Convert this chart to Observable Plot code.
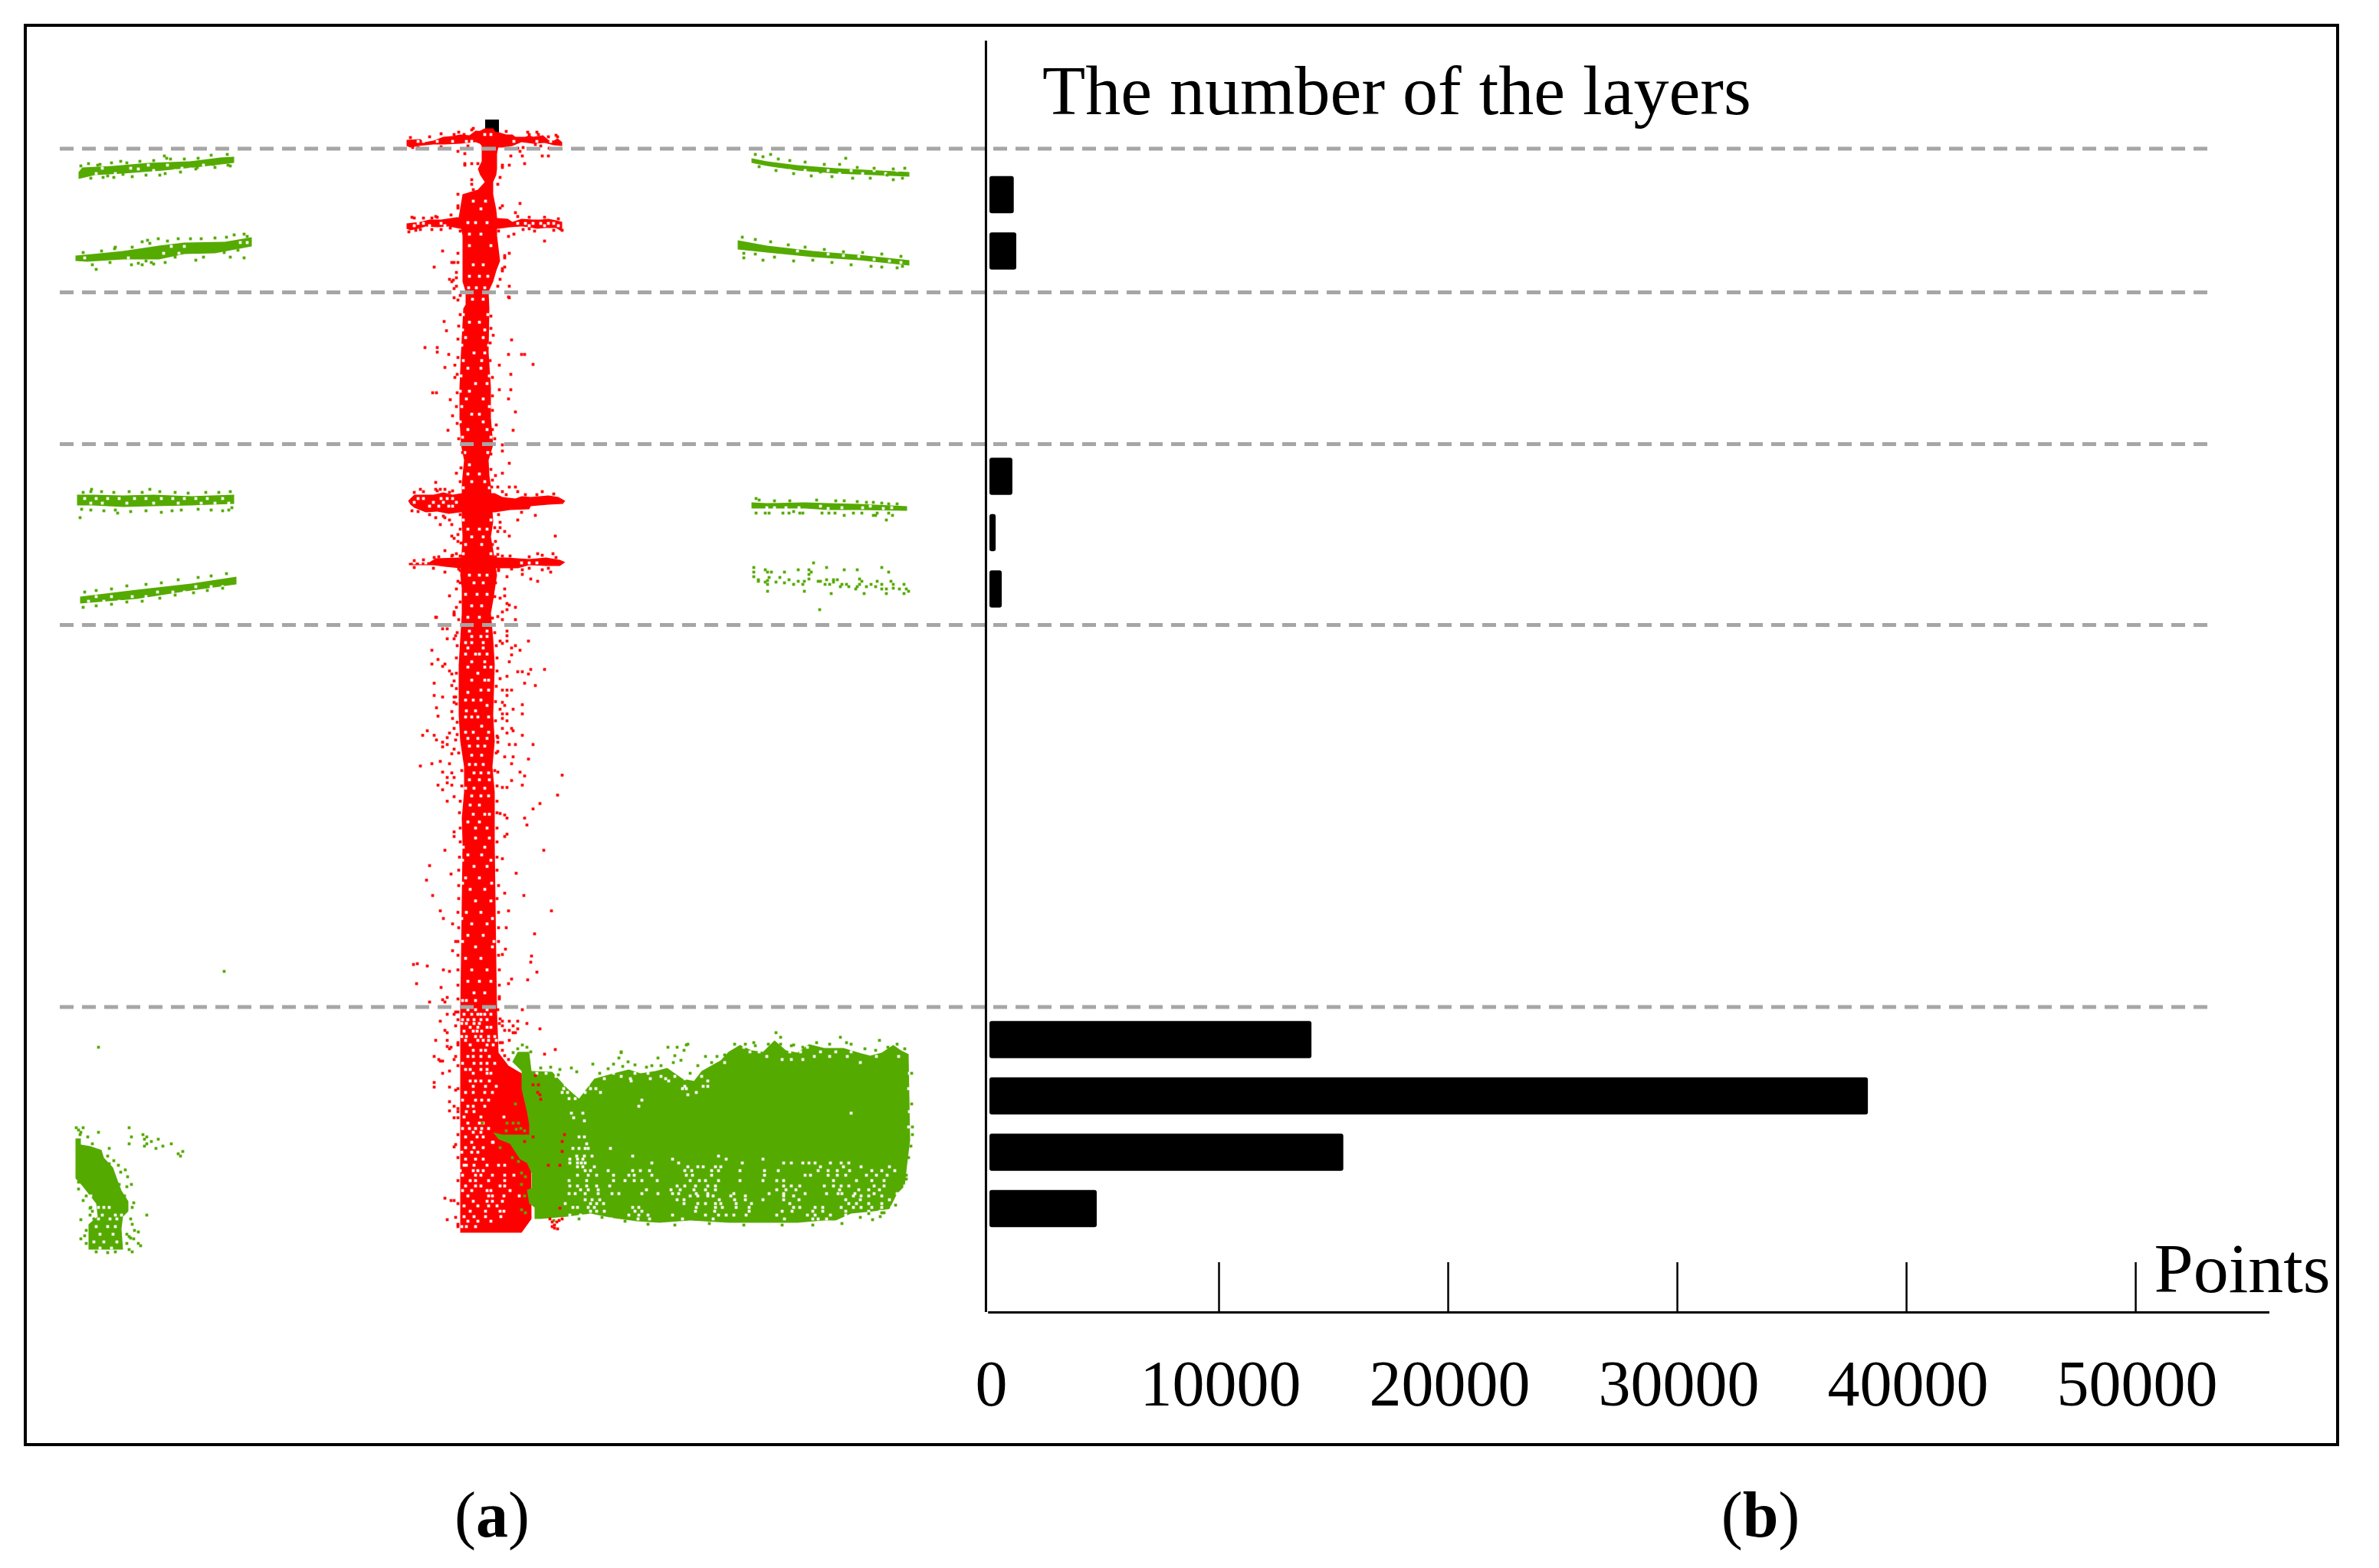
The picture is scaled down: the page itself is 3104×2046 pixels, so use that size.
<!DOCTYPE html>
<html>
<head>
<meta charset="utf-8">
<script src="https://cdn.jsdelivr.net/npm/d3@7"></script>
<script src="https://cdn.jsdelivr.net/npm/@observablehq/plot@0.6"></script>
<style>
  html, body { margin: 0; background: #fff; overflow: hidden; }
  #page { position: relative; width: 3104px; height: 2046px; font-family: "Liberation Serif", serif; color: #000; }
  #page svg { position: absolute; left: 0; top: 0; }
  .cap { position: absolute; top: 1928px; font-size: 84px; transform: translateX(-50%); }
</style>
</head>
<body>
<div id="page">
  <span class="cap" style="left:642px">(<b>a</b>)</span>
  <span class="cap" style="left:2297px">(<b>b</b>)</span>
</div>
<script>
// panel (b): points per layer, layer 1 is the lowest
const layers = [1, 2, 3, 4, 5, 6, 7, 8, 9, 10, 11, 12, 13, 14, 15, 16, 17, 18, 19];
const layerPoints = [4680, 15440, 38330, 14050, 0, 0, 0, 0, 0, 0, 0, 535, 270, 1000, 0, 0, 0, 1170, 1060];
const pointTicks = [0, 10000, 20000, 30000, 40000, 50000];

const sliceBreaks = [193.5, 381, 579, 815, 1313.5];
const towerCap = [{x1: 633, x2: 651, y1: 156, y2: 176}];
const towerOutline = [
  [632,167],[620,173],[622,182],[628,190],[628,210],[623,220],[626,228],[632,237],[623,247],[603,253],[598,283],[603,307],
  [603,367],[607,380],[607,397],[604,402],[601,459],[599,505],[599,545],[601,580],[605,600],[603,620],[602,633],[602,680],
  [603,700],[602,717],[600,750],[602,767],[602,800],[600,833],[598,867],[598,933],[600,967],[605,1000],[605,1033],[602,1067],
  [603,1100],[601,1250],[600,1320],[600,1608],[680,1608],[693,1590],[692,1467],[687,1433],[680,1400],[663,1390],[650,1373],
  [648,1320],[647,1250],[645,1100],[645,1033],[642,1000],[645,967],[643,933],[645,867],[643,833],[640,800],[643,783],[648,750],
  [643,717],[640,700],[643,680],[640,633],[638,620],[637,600],[643,580],[640,545],[640,505],[637,459],[638,402],[637,380],
  [643,367],[647,353],[652,340],[648,307],[648,283],[647,273],[643,253],[643,237],[647,228],[648,220],[648,200],[650,190],[647,173],[643,167]
];
const armOutlines = [
  [[530,182],[548,181],[553,185],[565,183],[578,178],[590,177],[600,175],[612,176],[620,170],[650,172],[660,175],[668,175],[672,178],[685,178],[690,176],[695,178],[708,176],[715,182],[722,183],[727,180],[733,185],[733,190],[722,189],[710,186],[695,187],[680,185],[668,190],[655,192],[640,192],[620,185],[600,187],[580,188],[565,188],[545,190],[535,192],[530,190]],
  [[530,291],[548,289],[560,286],[575,286],[595,283],[648,284],[662,285],[668,289],[680,285],[695,286],[705,286],[715,285],[725,287],[733,289],[733,302],[725,297],[712,297],[700,298],[690,296],[680,295],[665,296],[650,298],[600,298],[585,295],[570,296],[555,295],[545,298],[535,300],[530,298]],
  [[532,653],[540,645],[565,645],[578,642],[590,645],[602,643],[645,643],[655,648],[672,650],[680,647],[692,648],[715,646],[728,648],[737,653],[734,657],[715,658],[692,660],[690,664],[665,665],[645,668],[600,668],[585,670],[570,667],[555,668],[540,662],[535,658]],
  [[533,734],[560,733],[568,728],[600,727],[645,727],[660,727],[690,729],[712,727],[730,730],[737,733],[730,738],[712,738],[690,737],[675,741],[650,741],[600,741],[580,739],[565,737],[550,737],[533,737]]
];
const wireOutlines = [
  [[102,224],[107,218],[147,216],[193,212],[247,210],[287,205],[305,204],[305,212],[263,217],[213,222],[160,226],[123,228],[102,233]],
  [[98,333],[120,331],[160,327],[207,320],[240,316],[293,315],[328,309],[328,321],[280,330],[240,331],[207,338],[160,338],[113,341],[98,340]],
  [[100,645],[120,645],[160,646],[200,645],[250,647],[305,645],[305,657],[250,659],[200,660],[160,661],[120,659],[100,659]],
  [[104,778],[178,769],[249,761],[308,752],[308,762],[249,770],[178,781],[104,787]],
  [[980,206],[1000,210],[1040,215],[1090,219],[1186,224],[1186,230],[1090,226],[1040,222],[1000,216],[980,212]],
  [[962,313],[1000,320],[1060,327],[1120,332],[1186,339],[1186,346],[1120,339],[1060,335],[1000,329],[962,325]],
  [[980,655],[1000,656],[1050,655],[1080,656],[1120,657],[1183,660],[1183,666],[1120,665],[1080,665],[1050,663],[1000,663],[980,663]],
  [[98,1485],[105,1485],[105,1493],[117,1495],[132,1500],[135,1510],[147,1523],[152,1537],[158,1553],[167,1567],[167,1580],[160,1587],[158,1603],[160,1630],[115,1630],[115,1597],[127,1587],[125,1570],[107,1547],[98,1537]]
];
const groundOutline = [
  [668,1385],[675,1372],[690,1372],[693,1397],[720,1398],[740,1420],[755,1433],[765,1420],[775,1407],[800,1400],[820,1395],[835,1400],
  [855,1397],[870,1393],[890,1407],[905,1410],[915,1397],[940,1383],[950,1372],[965,1363],[980,1370],[995,1372],[1010,1357],[1025,1370],
  [1040,1373],[1055,1362],[1075,1367],[1100,1367],[1120,1373],[1135,1377],[1150,1373],[1165,1363],[1175,1370],[1185,1375],[1187,1487],
  [1183,1520],[1180,1547],[1170,1557],[1160,1577],[1140,1580],[1110,1583],[1090,1592],[1075,1592],[1040,1595],[990,1595],[950,1595],
  [900,1592],[860,1595],[830,1593],[800,1589],[770,1583],[740,1587],[705,1590],[697,1590],[697,1575],[690,1570],[687,1552],[693,1550],
  [693,1530],[687,1517],[678,1512],[670,1500],[665,1492],[650,1486],[643,1477],[655,1480],[690,1480],[690,1467],[687,1450],[683,1433],[680,1420],[680,1397]
];

// gaps in the dense parts, [y, [x, ...]]
const towerGaps = [
  [175,[632,640]],[262,[617,633]],[272,[627]],[290,[610,620,635]],[305,[612,627]],[320,[612,640]],[345,[617,630]],[360,[612,625,636]],[375,[611,621,632]],[390,[616,630]],
  [410,[604,636]],[420,[612,625]],[430,[603,632]],[440,[607,630]],[450,[602,637]],[460,[618,632]],[470,[604,628]],[480,[610,627]],[490,[601,638]],[500,[620,635]],[510,[600,612]],[520,[608,630]],[530,[602,638]],[540,[615,625]],[550,[600,630]],[560,[610,635]],[570,[603,640]],
  [590,[606,636]],[606,[612]],[618,[610,625]],[628,[615,632]],[636,[604,638]],
  [678,[604,640]],[690,[610,625,635]],[700,[615,630]],[710,[607,628]],[722,[604,640]],[750,[612,625,635]],[760,[618,630]],[775,[607,622,635]],[790,[615,628]],[805,[610,625]],
  [823,[612,635]],[830,[615,627,635]],[838,[607,615,630]],[845,[610,630]],[853,[607,620,625,635]],[863,[615,632]],[870,[610,632,640]],[878,[623]],[887,[615,632,637]],[900,[627,637]],[903,[610]],
  [913,[607,617,627]],[920,[635]],[927,[608,620]],[935,[607,615,623,637]],[947,[628]],[955,[607,617,637]],[963,[610,623,635]],[973,[623,612,632]],[985,[615,628]],[997,[612,630,620]],
  [1008,[618,627,637]],[1017,[612,625,638]],[1028,[607,618,632]],[1038,[615,627,637]],[1050,[613,625]],[1062,[617,632,638]],[1072,[610,625]],[1080,[620,635]],[1093,[620,638]],
  [1105,[604,632]],[1115,[610,628]],[1122,[603,640]],[1130,[618,635]],[1145,[607,625]],[1152,[603,641]],[1160,[613,632]],[1175,[620,640]],[1190,[608,627]],[1198,[602,642]],[1205,[615,635]],[1220,[610,630]],[1228,[603,644]],[1235,[620,642]],[1250,[607,627]],[1265,[615,635]],[1280,[610,625,640]],[1295,[618,632]],
  [1305,[603,608,620]],[1317,[610,620,635]],[1323,[605,615,623,627,632,640]],[1330,[603,610,618,627,635]],[1335,[602,608,618,625]],[1340,[613,623,635,640]],[1345,[605,617,622,628]],
  [1352,[602,608,620,627,637,645]],[1357,[607,623,630,637,647]],[1363,[613,635,643]],[1370,[617,627,633]],[1378,[610,617,627,638]],[1387,[603,618,627,635,645]],[1395,[607,613,627,635]],
  [1400,[617,635,640]],[1410,[613,620,627,638]],[1417,[617,633,647]],[1425,[607,617,632,642]],[1435,[603,620,628,637]],[1443,[610,617,632]],[1450,[608,618]],[1457,[605,627,657]],
  [1465,[610,625,630]],[1472,[603,612,620,628,637]],[1477,[617,627]],[1483,[607,622,630]],[1490,[642,643,615]],[1497,[607,618,630]],[1503,[602,615,623]],[1512,[607,620,630]],
  [1520,[605,608,618,650,658,635]],[1527,[617,623,600,630]],[1533,[603,620,627,642,658,670]],[1540,[613,620,637,658]],[1547,[607,620,627,652,658]],[1553,[603,615,635,640,665]],
  [1560,[610,637,642,657,677]],[1567,[617,635,642,655]],[1573,[605,623,637,648]],[1580,[613,633,652,657]],[1587,[605,618,633,653]],[1593,[610,623,640]],[1600,[602,608,620]],
  [184,[545,552,570,590,608,615,670,700,718]],[291,[545,552,575,675,685,695,705,715,722]],[294,[540,560,580,690,710,728]],
  [650,[545,552,575,583,590]],[655,[540,565,578,595]],[660,[560,572,585,590]],[734,[540,548,555,680,690,700]]
];
const wireGaps = [
  [219,[133,170,237]],[215,[193,218,265]],[220,[180,248]],[226,[125,150]],[222,[200,228]],
  [330,[213,233]],[321,[223,240]],[336,[167,110]],[316,[313,322]],
  [650,[110,125,140,155,175,190,210,225,240,255,270,290]],[656,[118,133,165,200,232,262,280,298]],
  [784,[115,135,155]],[778,[125,145,172,190]],[772,[205,225,240]],[765,[255,275,290]],
  [222,[1010,1030,1050,1080,1110,1140,1170]],[226,[1065,1095,1125,1155]],
  [327,[1040]],[331,[1080]],[333,[1100]],[334,[1120]],[338,[1140]],[340,[1160]],[342,[1175]],
  [662,[1000,1010,1025,1042,1098,1125,1163]],[660,[1070,1135]],[663,[1080,1152]],
  [1590,[128,143,152]],[1600,[125,140,150]],[1610,[130,147]],[1620,[122,135,152]],[1628,[130,145]],[1560,[110,118]],[1575,[128,135,142]],[1585,[133,150,158]]
];
const groundGaps = [
  [1366,[970,1053]],[1372,[978,990,1030,1044,1070,1090,1110,1125]],[1378,[1000,1062,1082,1105,1143,1172]],[1386,[945,1122]],
  [1400,[700,712,800,828,845]],[1404,[725,775,810,862,880,915]],
  [1382,[1020,1032,1047]],[1407,[788,822,848,868,893]],[1410,[735,752,823,872,923]],[1415,[737,753,767]],[1417,[893,917,923]],[1420,[735,750,757,770,777,890,895]],[1425,[733,740,750,763,783,908]],[1428,[897]],
  [1433,[742,750]],[1435,[837]],[1443,[833]],[1452,[745,760,1110]],[1458,[748]],[1462,[762]],
  [1483,[755,762]],[1492,[765]],[1498,[747,755,763,767,796]],[1508,[825,752,762,772,937]],[1512,[743,753,760,877,995,947]],
  [1517,[743,753,758,763,850,885,968,1022,1032,1047,1055,1063,1083,1097,1107]],[1522,[753,760,775,897,910,917,933,940,1070,1100,1123,1160]],
  [1527,[763,770,793,825,835,847,893,902,928,937,965,997,1015,1067,1080,1092,1108,1137,1150,1167]],
  [1533,[753,767,778,800,820,827,850,895,903,928,997,1050,1057,1080,1092,1103,1130,1143,1157]],
  [1540,[742,765,800,815,827,837,857,900,912,920,937,965,995,1013,1022,1087,1117,1137,1153]],
  [1547,[743,753,765,778,795,883,893,907,923,933,1022,1032,1043,1075,1087,1097,1107,1140,1153,1180]],
  [1552,[757,767,780,843,875,887,905,920,933,1013,1025,1038,1095,1120,1133,1147]],
  [1557,[742,750,763,780,798,807,837,858,877,885,908,923,957,1003,1022,1050,1078,1093,1098,1115,1140,1170]],
  [1560,[900,910,923,930,953,972,1022,1035,1113,1123,1133,1150]],
  [1565,[763,772,782,883,892,938,958,972,995,1022,1042,1103,1122,1160]],
  [1570,[737,770,778,787,892,910,920,933,940,960,980,1030,1107,1117,1133,1150]],
  [1575,[747,753,767,775,825,833,908,933,942,960,977,1035,1043,1063,1073,1097,1113,1123,1137,1150,1163]],
  [1580,[770,778,788,828,837,907,932,977,1020,1033,1060,1073,1103,1133,1148]],
  [1585,[743,757,770,820,833,845,877,920,937,947,957,973,1013,1053,1063,1083,1103]],
  [1590,[797,832,847,890,930,1023,1060,1067,1078,1140]],
  [1400,[1186]],[1420,[1185]],[1450,[1186]],[1470,[1185]]
];

// stray points, [x, y]
const redStrays = [
  [597,197],[606,200],[606,213],[606,215],[615,213],[623,213],[655,215],[655,218],[664,215],[684,213],[666,203],[681,203],[678,197],[707,203],[715,203],[615,234],[615,240],[617,247],[649,240],[652,231],
  [678,265],[655,268],[652,271],[672,277],[597,253],[597,268],[597,271],[710,314],[577,327],[566,348],[597,330],[664,330],[658,333],[658,336],[589,342],[592,342],[597,342],[655,350],[655,353],[658,348],
  [595,355],[595,362],[586,364],[589,367],[595,373],[652,364],[649,373],[664,373],[592,376],[592,388],[600,385],[597,391],[664,388],[537,283],[568,282],[563,284],[533,302],[542,300],[563,299],[587,297],
  [670,305],[663,308],[733,300],[682,299],[690,298],[615,169],[592,175],[605,175],[690,175],[702,175],[715,178],[727,178],[538,192],[682,192],[698,188],[716,193],
  [663,387],[591,365],[579,419],[582,431],[554,453],[570,453],[570,459],[585,462],[593,476],[580,479],[593,492],[564,512],[569,512],[587,521],[590,542],[601,554],[584,561],[643,437],[667,443],[663,462],
  [680,462],[684,462],[695,475],[651,476],[666,488],[651,508],[666,508],[663,520],[672,537],[647,554],[669,561],[655,580],[655,588],
  [664,604],[655,617],[646,620],[595,617],[568,629],[548,638],[568,638],[574,638],[580,638],[586,642],[664,635],[672,635],[649,635],[641,635],[655,641],[675,641],[707,641],[537,666],[568,675],[580,675],
  [586,678],[574,684],[589,684],[698,672],[675,678],[652,681],[652,688],[649,693],[658,693],[664,699],[724,699],[589,699],[592,702],[597,697],[597,706],[646,706],[649,715],[580,718],[595,722],[589,725],
  [701,722],[721,722],[649,723],[655,725],[566,727],[667,742],[681,743],[707,743],[718,746],[681,749],[580,746],[661,752],[692,755],[701,758],[597,758],[595,768],[658,768],[586,777],[658,777],[652,780],
  [661,787],[664,789],[672,792],[595,792],[661,795],[592,798],[592,801],[569,805],[649,804],[672,808],[655,798],
  [568,805],[592,802],[655,808],[577,820],[583,820],[583,833],[592,833],[594,829],[661,823],[661,829],[689,836],[652,836],[661,836],[655,839],[672,842],[667,845],[678,848],[563,848],[667,854],[571,860],
  [563,866],[580,866],[577,869],[664,863],[586,875],[589,879],[675,876],[681,876],[692,873],[710,873],[689,879],[661,882],[652,885],[592,888],[566,891],[684,891],[589,894],[698,894],[655,900],[661,900],
  [667,900],[566,907],[577,909],[592,909],[594,909],[592,916],[661,907],[655,916],[681,919],[658,920],[569,923],[589,928],[652,925],[669,925],[681,931],[571,934],[655,931],[661,931],[590,937],[655,937],
  [661,940],[592,950],[655,950],[667,950],[557,953],[551,959],[566,959],[586,956],[669,953],[661,956],[681,959],[569,965],[583,962],[594,965],[649,962],[577,968],[649,968],[577,974],[583,971],[664,971],
  [672,971],[695,971],[592,977],[649,980],[589,983],[658,987],[669,987],[574,993],[689,990],[563,996],[586,996],[548,999],[667,996],[577,1007],[589,1008],[649,1007],[678,1007],[684,1012],[733,1011],[583,1014],
  [592,1014],[583,1021],[571,1024],[589,1024],[667,1018],[681,1024],[655,1027],[661,1027],[577,1030],[592,1039],[727,1037],[583,1045],[704,1048],[695,1055],[652,1061],[658,1063],[661,1067],[684,1067],[687,1076],
  [592,1085],[592,1091],[661,1088],[658,1091],
  [556,1148],[564,1168],[560,1129],[580,1109],[574,1188],[544,1257],[683,1168],[673,1139],[663,1188],[693,1247],[697,1218],[709,1109],[719,1188],[594,1228],[586,1267],[578,1198],[659,1238],[667,1277],[588,1140],[590,1205],
  [655,1120],[658,1165],[660,1210],[655,1245],[590,1240],[539,1258],[557,1260],[543,1283],[578,1265],[575,1288],[692,1255],[700,1268],[688,1278],[663,1283],[651,1300],
  [560,1307],[577,1304],[580,1307],[583,1301],[583,1323],[574,1332],[592,1323],[594,1320],[597,1320],[594,1338],[580,1344],[583,1347],[568,1357],[583,1357],[583,1365],[586,1368],[588,1366],[597,1363],[566,1378],[572,1382],
  [574,1384],[577,1384],[594,1378],[592,1382],[577,1400],[586,1397],[566,1412],[566,1418],[586,1418],[594,1422],[586,1437],[592,1443],[597,1446],[586,1449],[592,1458],[597,1458],[592,1496],[594,1493],[580,1563],[588,1566],
  [592,1566],[594,1588],[583,1591],[597,1597],[655,1332],[664,1332],[675,1332],[687,1335],[655,1338],[658,1344],[664,1344],[669,1338],[675,1342],[669,1347],[672,1347],[704,1342],[655,1360],[664,1357],[710,1375],[724,1369],
  [681,1317],[649,1317],[652,1329],[655,1370],[658,1377],[663,1382],[652,1387]
];
// points just outside the tower and arm outlines
const redEdges = [
  [535,179],[560,178],[575,174],[598,172],[617,167],[660,171],[688,172],[700,172],[725,176],[545,192],[575,191],[610,190],[675,193],[705,190],
  [540,284],[552,284],[570,283],[588,280],[675,282],[690,283],[710,283],[728,285],[548,299],[575,299],[600,301],[650,301],[697,301],[722,300],
  [540,642],[552,641],[570,640],[590,640],[660,645],[685,645],[700,645],[722,644],[545,667],[560,671],[578,673],[600,671],[650,671],[680,668],
  [540,731],[552,730],[572,726],[590,724],[665,725],[690,726],[707,724],[725,727],[540,740],[565,741],[600,744],[650,744],[690,741],[715,741],
  [600,410],[640,412],[598,425],[640,428],[597,442],[639,447],[597,466],[639,470],[596,488],[642,492],[596,512],[642,516],[595,530],[642,535],[596,552],[642,560],[598,572],[645,572],
  [603,590],[640,592],[601,610],[640,612],[600,628],[642,626],[600,690],[645,688],[601,708],[642,710],[600,725],[646,726],[598,742],[650,742],[600,760],[646,760],[600,785],[645,778],
  [598,808],[642,806],[596,825],[645,825],[596,842],[647,842],[595,858],[648,858],[595,878],[648,875],[595,898],[647,895],[595,918],[646,915],[596,942],[646,940],[596,958],[648,960],
  [598,982],[647,982],[602,1005],[645,1005],[602,1025],[648,1025],[600,1045],[648,1045],[599,1060],[648,1060],[600,1080],[648,1080],[600,1098],[648,1098],
  [599,1118],[648,1118],[598,1135],[648,1135],[598,1155],[650,1155],[598,1172],[648,1172],[597,1190],[650,1190],[598,1210],[650,1210],[597,1228],[650,1228],[597,1246],[650,1246],[597,1265],[651,1265],[597,1285],[651,1285],[597,1303],[651,1303],
  [597,1330],[651,1335],[597,1360],[652,1360],[597,1390],[597,1420],[597,1450],[597,1480],[597,1510],[597,1540],[597,1570],[597,1600]
];
const redOverGround = [
  [736,1480],[733,1489],[733,1502],[730,1520],[730,1576],[715,1520],[695,1483],[684,1489],[701,1425],[704,1428],[705,1434],[698,1403],[695,1415],[702,1415],
  [717,1590],[720,1594],[723,1598],[726,1594],[729,1592],[723,1602],[727,1603],[733,1590],[720,1600]
];
const greenStrays = [
  // wires
  [214,203],[217,206],[157,210],[160,227],[140,229],[134,231],[208,228],[257,218],[297,215],[278,214],[127,215],
  [125,351],[131,337],[149,324],[190,340],[171,345],[185,345],[197,342],[200,344],[192,313],[185,315],[206,311],[255,339],[248,311],[295,309],[300,335],[318,336],[322,308],
  [119,638],[195,638],[104,675],[153,669],[224,666],[290,666],[298,665],[1005,201],[1103,206],[1070,224],[1177,232],[1157,228],[970,336],[995,339],[1136,347],[1177,347],
  [986,650],[998,669],[1003,669],[986,669],[1021,669],[1029,669],[1035,667],[1043,669],[1047,669],[1072,669],[1081,669],[1089,669],[1101,653],[1101,672],[1113,669],[1124,669],[1130,655],[1139,672],[1142,672],[1144,669],[1156,678],[1159,669],[1164,672],[1159,657],[1139,655],
  [105,216],[115,213],[130,214],[145,212],[165,212],[182,210],[200,209],[222,207],[240,207],[258,206],[275,202],[296,201],[300,216],[280,218],[255,220],[235,224],[215,226],[190,228],[172,230],[148,231],[118,232],
  [108,329],[132,327],[150,322],[172,322],[195,317],[218,314],[232,311],[262,311],[280,310],[305,306],[318,305],[310,326],[292,329],[265,335],[228,335],[215,342],[180,343],[143,342],[120,345],
  [108,642],[118,641],[132,641],[148,642],[168,641],[185,642],[208,641],[228,642],[245,643],[268,642],[285,642],[300,641],[106,664],[118,665],[135,666],[150,665],[170,667],[190,666],[210,668],[236,665],[258,664],[275,665],[302,662],
  [110,772],[125,770],[145,768],[165,764],[190,762],[210,760],[232,756],[258,753],[275,751],[295,748],[108,792],[125,790],[145,788],[165,785],[185,784],[208,780],[228,776],[252,773],[270,770],[290,767],
  [985,201],[995,204],[1015,207],[1030,209],[1050,211],[1075,214],[1095,214],[1118,218],[1140,219],[1165,220],[1180,219],[990,217],[1012,222],[1035,226],[1058,229],[1085,230],[1112,232],[1135,232],[1165,234],
  [968,309],[985,312],[1005,315],[1028,319],[1050,322],[1075,325],[1100,328],[1125,329],[1150,331],[1175,334],[970,330],[985,331],[1010,335],[1035,340],[1060,339],[1085,342],[1110,345],[1150,348],[1170,349],
  [990,652],[1010,653],[1030,653],[1065,652],[1090,653],[1118,654],[1150,656],[1170,657],
  // sparse wire, lower right
  [983,740],[983,746],[983,752],[989,756],[989,758],[998,743],[1001,746],[1006,746],[1003,753],[1001,757],[998,759],[1001,762],[1012,759],[1017,753],[1023,746],[1023,760],[1029,756],[1035,762],[1041,743],[1041,758],
  [1047,762],[1049,758],[1055,743],[1058,746],[1055,749],[1055,755],[1049,771],[1001,771],[1061,734],[1067,758],[1070,758],[1078,740],[1078,756],[1076,762],[1082,762],[1087,756],[1087,759],[1092,756],[1096,765],[1098,762],
  [1104,762],[1107,765],[1101,743],[1118,743],[1121,755],[1124,758],[1121,762],[1118,765],[1116,768],[1130,765],[1136,762],[1142,765],[1144,758],[1150,740],[1159,746],[1150,762],[1150,768],[1156,768],[1162,758],[1165,762],
  [1165,767],[1173,768],[1179,762],[1182,768],[1185,771],[1179,774],[1156,774],[1127,774],[1084,774],[1069,795],
  // left blob and single points
  [99,1471],[102,1474],[105,1477],[108,1471],[128,1477],[114,1483],[168,1471],[171,1483],[168,1492],[186,1480],[188,1486],[191,1483],[191,1492],[188,1495],[197,1489],[206,1486],[203,1498],[212,1495],[223,1492],[232,1505],
  [235,1508],[238,1502],[154,1520],[163,1526],[157,1529],[166,1535],[171,1545],[165,1548],[174,1569],[105,1591],[105,1616],[191,1585],[108,1566],[102,1551],[102,1542],[117,1576],[117,1585],[168,1613],[174,1616],[180,1607],
  [180,1622],[183,1625],[148,1514],[142,1498],[140,1508],[292,1267],[128,1366],
  [104,1480],[120,1580],[118,1575],[112,1560],[122,1590],[170,1590],[172,1597],[175,1605],[165,1610],[170,1615],[112,1605],[110,1612],[112,1622],[165,1622],[168,1630],[172,1633],[150,1633],[140,1634],[125,1633],[120,1492],[142,1518],[155,1545],[162,1560],[172,1575],
  // ground, above and right of the mass
  [1012,1347],[1018,1353],[1096,1353],[1147,1357],[1104,1360],[983,1360],[1035,1363],[897,1362],[871,1366],[883,1366],[810,1373],[807,1380],[858,1380],[920,1378],[935,1378],[773,1388],[800,1388],[819,1385],[895,1363],[892,1370],
  [880,1377],[888,1383],[681,1363],[687,1366],[692,1372],[675,1368],[669,1373],[810,1372],[1138,1591],[1148,1587],[1153,1582],[1133,1583],[1182,1533],[1182,1538],[1177,1537],[745,1393],[752,1398],[730,1395],[850,1390],[910,1390],
  [705,1393],[718,1392],[728,1402],[782,1400],[793,1394],[812,1391],[828,1389],[843,1392],[862,1390],[878,1386],[900,1400],[928,1386],[945,1376],[958,1362],[972,1362],[985,1364],[1002,1362],[1018,1362],[1032,1364],[1047,1366],[1065,1360],[1082,1362],[1110,1362],[1128,1368],[1142,1370],[1158,1366],[1170,1362],[1180,1368],
  [1190,1470],[1190,1480],[1188,1495],[1185,1510],[1189,1440],[1189,1400],[1168,1572],[1150,1582],[1122,1588],[1098,1596],[1060,1598],[1020,1598],[970,1598],[925,1596],[880,1598],[845,1597],[815,1593],[785,1588],[755,1590],[722,1592],
  // flecks over the red base
  [629,1465],[661,1465],[669,1465],[676,1465],[660,1475],[673,1473],[679,1472],[684,1475],[672,1440],[652,1497],[668,1510],[676,1515],[680,1530],[685,1535],[680,1545],[684,1560],[680,1578],[685,1582]
];

const RED = "#ff0000";
const GREEN = "#55aa00";
const SERIF = "'Liberation Serif', serif";
const flatRows = rows => rows.flatMap(([y, xs]) => xs.map(x => [x, y]));
const px = d => d[0];
const py = d => d[1];
const speck = (data, fill) => Plot.dot(data, {x: px, y: py, symbol: "square", r: 2.1, fill, stroke: "none"});
const blob = (data, fill) => Plot.line(data, {x: px, y: py, fill, stroke: "none", curve: "linear"});

const cloud = Plot.plot({
  width: 3104,
  height: 2046,
  margin: 0,
  style: {background: "transparent"},
  x: {domain: [0, 3104], range: [0, 3104], axis: null},
  y: {domain: [0, 2046], range: [0, 2046], axis: null},
  marks: [
    // outer frame
    Plot.rect([{x1: 33, x2: 3050, y1: 33, y2: 1885}], {x1: "x1", x2: "x2", y1: "y1", y2: "y2", fill: "none", stroke: "#000", strokeWidth: 4}),
    Plot.rect(towerCap, {x1: "x1", x2: "x2", y1: "y1", y2: "y2", fill: "#000"}),
    blob(towerOutline, RED),
    ...armOutlines.map(a => blob(a, RED)),
    speck(flatRows(towerGaps), "#fff"),
    speck(redStrays, RED),
    speck(redEdges, RED),
    ...wireOutlines.map(w => blob(w, GREEN)),
    speck(flatRows(wireGaps), "#fff"),
    blob(groundOutline, GREEN),
    speck(flatRows(groundGaps), "#fff"),
    speck(greenStrays, GREEN),
    speck(redOverGround, RED),
    Plot.ruleY(sliceBreaks, {x1: 78, x2: 2888, stroke: "#a6a6a6", strokeWidth: 5, strokeDasharray: "18,11"})
  ]
});

const layerRows = layers.map((layer, i) => ({layer, points: layerPoints[i]})).filter(d => d.points > 0);
const LAYER_BOTTOM = -0.837;
const LAYER_TOP = 21.735;
const BAR_HALF = 0.33;

const bars = Plot.plot({
  width: 3104,
  height: 2046,
  marginLeft: 1291,
  marginRight: 143,
  marginTop: 53,
  marginBottom: 334,
  style: {background: "transparent", fontFamily: SERIF, color: "#000"},
  x: {domain: [0, 55850], axis: null},
  y: {domain: [LAYER_BOTTOM, LAYER_TOP], axis: null},
  marks: [
    Plot.rect(layerRows, {x1: 0, x2: "points", y1: d => d.layer - BAR_HALF, y2: d => d.layer + BAR_HALF, fill: "#000", rx: 3}),
    Plot.ruleX([-170], {y1: LAYER_BOTTOM, y2: LAYER_TOP, stroke: "#000", strokeWidth: 3}),
    Plot.ruleY([LAYER_BOTTOM], {x1: -60, x2: 55850, stroke: "#000", strokeWidth: 3}),
    Plot.ruleX(pointTicks.slice(1), {y1: LAYER_BOTTOM, y2: 0.048, stroke: "#000", strokeWidth: 2.5}),
    Plot.axisX(pointTicks, {anchor: "bottom", tickSize: 0, tickPadding: 62, fontSize: 84, label: null, tickFormat: "d", fill: "#000", dx: 2}),
    Plot.text(["The number of the layers"], {x: 2290, y: 20.43, text: d => d, textAnchor: "start", lineAnchor: "bottom", fontSize: 92, fill: "#000"}),
    Plot.text(["Points"], {x: 50800, y: -0.47, text: d => d, textAnchor: "start", lineAnchor: "bottom", fontSize: 92, fill: "#000"})
  ]
});

const page = document.getElementById("page");
page.appendChild(cloud);
page.appendChild(bars);
</script>
</body>
</html>
